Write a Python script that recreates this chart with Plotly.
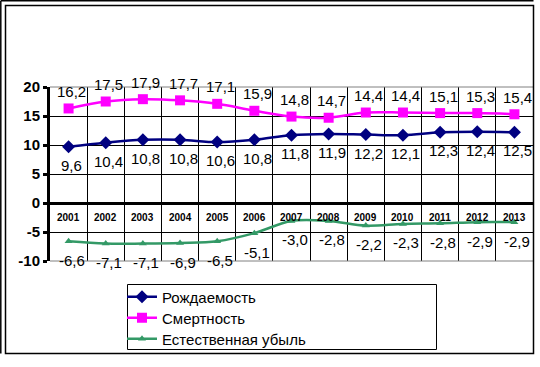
import plotly.graph_objects as go

years = ["2001", "2002", "2003", "2004", "2005", "2006", "2007",
         "2008", "2009", "2010", "2011", "2012", "2013"]

# plotted positions
births = [9.7, 10.4, 10.9, 10.9, 10.5, 10.9, 11.7, 11.9, 11.8, 11.7, 12.2, 12.3, 12.2]
deaths = [16.3, 17.5, 17.9, 17.7, 17.1, 15.9, 14.9, 14.7, 15.6, 15.6, 15.5, 15.5, 15.3]
natural = [-6.6, -7.0, -7.0, -6.9, -6.6, -5.2, -3.1, -3.1, -3.9, -3.6, -3.5, -3.3, -3.3]

# data label values (as printed in the picture)
births_lbl = [9.6, 10.4, 10.8, 10.8, 10.6, 10.8, 11.8, 11.9, 12.2, 12.1, 12.3, 12.4, 12.5]
deaths_lbl = [16.2, 17.5, 17.9, 17.7, 17.1, 15.9, 14.8, 14.7, 14.4, 14.4, 15.1, 15.3, 15.4]
natural_lbl = [-6.6, -7.1, -7.1, -6.9, -6.5, -5.1, -3.0, -2.8, -2.2, -2.3, -2.8, -2.9, -2.9]

series_names = ["Рождаемость", "Смертность", "Естественная убыль"]
y_ticks = [-10, -5, 0, 5, 10, 15, 20]

W, H = 540, 367
L, R, T, B = 50, 533, 87, 261
xs = list(range(1, len(years) + 1))

def px(x):
    return (x - L) / (R - L)

def py(y):
    return (B - y) / (B - T)

def fmt(v):
    return f"{v:.1f}".replace(".", ",")

FONT = "Liberation Sans, Arial, sans-serif"

colors = ["#000080", "#FF00FF", "#339966"]
symbols = ["diamond", "square", "triangle-up"]
msizes = [10, 10, 7]
legend_ids = ["legend", "legend2", "legend3"]
legend_cy = [297, 318, 339]

fig = go.Figure()
for vals, name, c, s, ms, lg in zip((births, deaths, natural), series_names, colors, symbols, msizes, legend_ids):
    fig.add_trace(go.Scatter(x=xs, y=vals, name=name, mode="lines+markers",
                             line=dict(color=c, width=2.5, shape="spline"),
                             marker=dict(symbol=s, size=ms, color=c), legend=lg))

annotations = []
for vals, lbls, shift in ((births, births_lbl, -18.5), (deaths, deaths_lbl, 17), (natural, natural_lbl, -19)):
    for x, v, l in zip(xs, vals, lbls):
        annotations.append(dict(x=x, y=v, xref="x", yref="y", text=fmt(l), showarrow=False,
                                xshift=3, yshift=shift,
                                font=dict(family=FONT, size=15, color="black")))
for x, yr in zip(xs, years):
    annotations.append(dict(x=x, y=-2.5, xref="x", yref="y", text="<b>" + yr + "</b>",
                            showarrow=False, font=dict(family=FONT, size=10, color="black")))

shapes = [
    dict(type="line", xref="paper", yref="paper", x0=0, x1=1, y0=1, y1=1, line=dict(color="#808080", width=1)),
    dict(type="line", xref="paper", yref="paper", x0=0, x1=1, y0=0, y1=0, line=dict(color="#808080", width=1)),
    dict(type="rect", xref="paper", yref="paper", x0=px(5.5), x1=px(533.5), y0=py(353.5), y1=py(5.5),
         line=dict(color="black", width=1.5), layer="above"),
    dict(type="line", xref="paper", yref="paper", x0=px(0.8), x1=px(0.8), y0=py(353.5), y1=py(0.8),
         line=dict(color="black", width=1.5)),
    dict(type="line", xref="paper", yref="paper", x0=px(0.8), x1=px(533.5), y0=py(0.8), y1=py(0.8),
         line=dict(color="black", width=1.5)),
    dict(type="rect", xref="paper", yref="paper", x0=px(127.5), x1=px(436.5), y0=py(349.5), y1=py(284.5),
         line=dict(color="black", width=1), fillcolor="rgba(0,0,0,0)"),
]

legend_layouts = {}
for lg, cy in zip(legend_ids, legend_cy):
    legend_layouts[lg] = dict(xref="container", yref="container", x=122 / W, y=1 - cy / H,
                              xanchor="left", yanchor="middle",
                              bgcolor="rgba(0,0,0,0)", borderwidth=0,
                              font=dict(family=FONT, size=15, color="black"),
                              itemwidth=30)

fig.update_layout(
    width=W, height=H,
    margin=dict(l=L, r=W - R, t=T, b=H - B, autoexpand=False),
    paper_bgcolor="white", plot_bgcolor="white",
    font=dict(family=FONT, color="black"),
    showlegend=True,
    xaxis=dict(range=[0.5, len(years) + 0.5], tick0=0.5, dtick=1, showgrid=True,
               gridcolor="black", gridwidth=1, showticklabels=False, zeroline=False,
               showline=False, ticks=""),
    yaxis=dict(range=[-10, 20], tickvals=y_ticks, ticktext=[str(t) for t in y_ticks],
               showgrid=True, gridcolor="black", gridwidth=1,
               zeroline=True, zerolinecolor="black", zerolinewidth=3,
               showline=True, linecolor="black", linewidth=3,
               ticks="outside", ticklen=4, tickwidth=3, tickcolor="black",
               tickfont=dict(family=FONT, size=15, color="black", weight="bold")),
    annotations=annotations,
    shapes=shapes,
    **legend_layouts,
)

fig.write_html("out.html",
               config={"displayModeBar": False},
               post_script="document.body.style.margin='0';document.body.style.overflow='hidden';")
